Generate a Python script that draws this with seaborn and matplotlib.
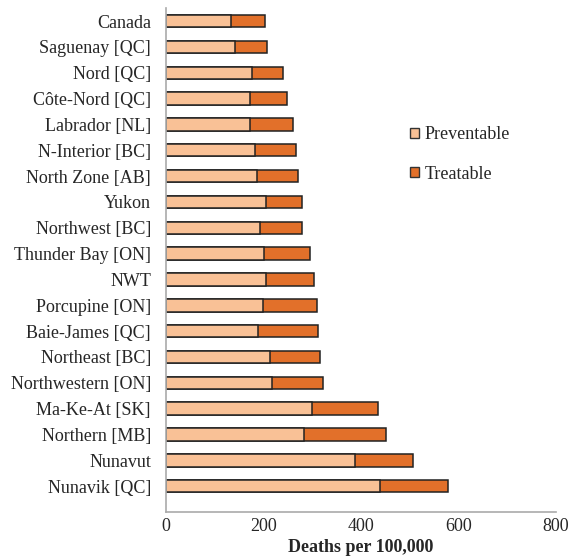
import pandas as pd
import matplotlib.pyplot as plt
import seaborn as sns
from matplotlib.patches import Patch

regions = ['Canada', 'Saguenay [QC]', 'Nord [QC]', 'Côte-Nord [QC]', 'Labrador [NL]',
           'N-Interior [BC]', 'North Zone [AB]', 'Yukon', 'Northwest [BC]',
           'Thunder Bay [ON]', 'NWT', 'Porcupine [ON]', 'Baie-James [QC]',
           'Northeast [BC]', 'Northwestern [ON]', 'Ma-Ke-At [SK]', 'Northern [MB]',
           'Nunavut', 'Nunavik [QC]']
preventable = [133, 141, 176, 172, 173, 183, 186, 204, 192, 200,
               205, 199, 189, 214, 217, 300, 284, 387, 439]
treatable = [70, 66, 63, 76, 88, 83, 84, 74, 86, 96,
             99, 111, 122, 102, 105, 135, 167, 119, 140]

df = pd.DataFrame({'region': regions, 'Preventable': preventable, 'Treatable': treatable})
df['total'] = df['Preventable'] + df['Treatable']

c_prev = '#F9C196'
c_treat = '#E2702A'

sns.set_style('white')
plt.rcParams['font.family'] = ['Liberation Serif', 'DejaVu Serif']

fig = plt.figure(figsize=(5.73, 5.58), dpi=100)
ax = fig.add_axes([0.29, 0.0824, 0.68, 0.903])

# total first (treatable colour), preventable drawn over it
sns.barplot(data=df, x='total', y='region', color=c_treat, saturation=1,
            edgecolor='#222222', linewidth=1.1, width=0.48, ax=ax)
sns.barplot(data=df, x='Preventable', y='region', color=c_prev, saturation=1,
            edgecolor='#222222', linewidth=1.1, width=0.48, ax=ax)

ax.set_xlim(0, 800)
ax.set_ylim(19, -0.5)
ax.set_xticks([0, 200, 400, 600, 800])
ax.set_ylabel('')
ax.set_xlabel('Deaths per 100,000', fontsize=13, fontweight='bold', labelpad=3)
ax.tick_params(axis='x', labelsize=13, length=3, direction='out', color='#aaaaaa', pad=1)
ax.tick_params(axis='y', labelsize=13, length=0, pad=11)
for s in ['top', 'right']:
    ax.spines[s].set_visible(False)
for s in ['left', 'bottom']:
    ax.spines[s].set_color('#aaaaaa')
    ax.spines[s].set_linewidth(1.2)

handles = [Patch(facecolor=c_prev, edgecolor='#333333', label='Preventable'),
           Patch(facecolor=c_treat, edgecolor='#333333', label='Treatable')]
ax.legend(handles=handles, loc='upper left', bbox_to_anchor=(0.585, 0.798),
          frameon=False, fontsize=13, handlelength=0.5, handleheight=0.5,
          handletextpad=0.3, labelspacing=1.25)

fig.savefig('out.png', dpi=100)
